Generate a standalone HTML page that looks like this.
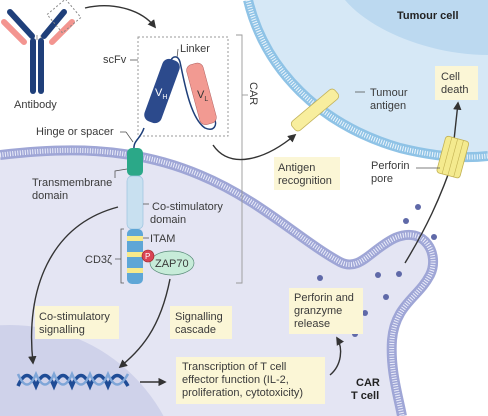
<!DOCTYPE html>
<html><head><meta charset="utf-8"><style>
html,body{margin:0;padding:0;background:#fff;width:488px;height:416px;overflow:hidden}
svg{display:block}
text{font-family:"Liberation Sans",sans-serif;font-size:11px;fill:#3a3a3a}
.b{font-weight:bold;fill:#222}
.box{fill:#fbf6d6}
.ln{stroke:#555;stroke-width:0.8;fill:none}
.arr{stroke:#333;stroke-width:1.4;fill:none;marker-end:url(#ah)}
</style></head><body>
<svg width="488" height="416" viewBox="0 0 488 416">
<defs>
<marker id="ah" viewBox="0 0 10 10" refX="8" refY="5" markerWidth="6" markerHeight="6" orient="auto"><path d="M0,0 L10,5 L0,10 z" fill="#333"/></marker>
</defs>
<!-- tumour cell -->
<g>
<path d="M248,0 C265,70 320,125 400,148 C440,158 470,158 488,156 L488,0 Z" fill="#d6e8f6"/>
<path d="M345,0 C370,30 430,55 488,55 L488,0 Z" fill="#bcd9f0"/>
<path d="M248,0 C265,70 320,125 400,148 C440,158 470,158 488,156" fill="none" stroke="#8fc3e6" stroke-width="10"/>
<path d="M248,0 C265,70 320,125 400,148 C440,158 470,158 488,156" fill="none" stroke="#eef6fc" stroke-width="5" stroke-dasharray="1 1.5"/>
<text x="397" y="19" class="b">Tumour cell</text>
</g>
<!-- T cell -->
<g>
<path d="M0,155 C60,148 130,145 200,175 C260,200 300,240 340,262 C360,272 370,250 395,238 C425,225 440,255 430,275 C418,298 395,305 392,340 C390,370 398,395 402,416 L0,416 Z" fill="#e4e5f3"/>
<circle cx="10" cy="500" r="175" fill="#cfd2ea"/>
<path d="M0,155 C60,148 130,145 200,175 C260,200 300,240 340,262 C360,272 370,250 395,238 C425,225 440,255 430,275 C418,298 395,305 392,340 C390,370 398,395 402,416" fill="none" stroke="#9fa6d6" stroke-width="10"/>
<path d="M0,155 C60,148 130,145 200,175 C260,200 300,240 340,262 C360,272 370,250 395,238 C425,225 440,255 430,275 C418,298 395,305 392,340 C390,370 398,395 402,416" fill="none" stroke="#eceefa" stroke-width="5" stroke-dasharray="1 1.5"/>
<text x="356" y="386" class="b">CAR</text>
<text x="351" y="399" class="b">T cell</text>
</g>
<!-- antibody -->
<g>
<line x1="37" y1="35" x2="37" y2="40" stroke="#bbb" stroke-width="1.5"/><line x1="41" y1="35" x2="41" y2="40" stroke="#bbb" stroke-width="1.5"/>
<rect x="30" y="38" width="6" height="56" rx="3" fill="#1f3f7a"/>
<rect x="38" y="38" width="6" height="56" rx="3" fill="#1f3f7a"/>
<line x1="10" y1="12" x2="32" y2="36" stroke="#1f3f7a" stroke-width="6" stroke-linecap="round"/>
<line x1="4" y1="22" x2="24" y2="42" stroke="#f39590" stroke-width="6" stroke-linecap="round"/>
<line x1="64" y1="12" x2="44" y2="36" stroke="#1f3f7a" stroke-width="6" stroke-linecap="round"/>
<line x1="72" y1="22" x2="52" y2="42" stroke="#f39590" stroke-width="6" stroke-linecap="round"/>
<rect x="52" y="4" width="24" height="24" transform="rotate(-40 64 16)" fill="none" stroke="#888" stroke-dasharray="2 2"/>
<text x="14" y="108">Antibody</text>
</g>
<path d="M85,8 C110,2 140,8 155,27" class="arr"/>
<!-- scFv box -->
<rect x="138" y="37" width="90" height="99" fill="none" stroke="#999" stroke-dasharray="2 2"/>
<text x="103" y="63">scFv</text>
<line x1="130" y1="60" x2="138" y2="60" class="ln"/>
<text x="180" y="52">Linker</text>
<line x1="178" y1="49" x2="177" y2="58" class="ln"/>
<path d="M154,118 L160,98 M170,63 C172,55 178,55 180,62 C184,80 190,118 205,128 C214,132 218,125 214,118" fill="none" stroke="#1f3f7a" stroke-width="1.5"/>
<rect x="153" y="58" width="18" height="66" rx="7" transform="rotate(20 162 91)" fill="#2c4a8c"/>
<text x="155" y="96" style="fill:#fff;font-size:11px">V<tspan style="font-size:7px;fill:#fff" dy="3">H</tspan></text>
<rect x="193" y="63" width="17" height="62" rx="6" transform="rotate(-15 201 94)" fill="#f29a92" stroke="#b06060" stroke-width="0.5"/>
<text x="197" y="98" style="fill:#333">V<tspan style="font-size:7px" dy="3">L</tspan></text>
<path d="M144,128 C140,140 133,140 134,150" fill="none" stroke="#1f3f7a" stroke-width="1.5"/>
<text x="36" y="135">Hinge or spacer</text>
<line x1="120" y1="132" x2="126" y2="132" class="ln"/><line x1="126" y1="132" x2="133" y2="142" class="ln"/>
<!-- CAR bracket -->
<path d="M236,35 L242,35 L242,283 L236,283" fill="none" stroke="#999" stroke-width="0.9"/>
<line x1="242" y1="95" x2="248" y2="95" stroke="#999" stroke-width="0.9"/>
<text x="0" y="0" transform="translate(250,82) rotate(90)">CAR</text>
<!-- CAR body -->
<rect x="127" y="148" width="16" height="28" rx="5" fill="#2ba888"/>
<rect x="127" y="176" width="16" height="53" rx="5" fill="#c8e0f0" stroke="#9cc4e0" stroke-width="0.7"/>
<rect x="127" y="229" width="16" height="55" rx="5" fill="#5ea6d6"/>
<rect x="127" y="236" width="16" height="5" fill="#f7ea8a"/>
<rect x="127" y="252" width="16" height="5" fill="#f7ea8a"/>
<rect x="127" y="268" width="16" height="5" fill="#f7ea8a"/>
<text x="32" y="186">Transmembrane</text>
<text x="32" y="199">domain</text>
<path d="M115,178 L115,171 L127,169" class="ln"/>
<text x="152" y="210">Co-stimulatory</text>
<text x="150" y="223">domain</text>
<line x1="143" y1="204" x2="149" y2="204" class="ln"/>
<text x="150" y="242">ITAM</text>
<line x1="143" y1="238" x2="149" y2="238" class="ln"/>
<text x="85" y="263">CD3ζ</text>
<path d="M124,229 L121,229 L121,283 L124,283 M115,259 L121,259" class="ln"/>
<ellipse cx="172" cy="263" rx="22" ry="12" fill="#c7ecd9" stroke="#5a8c7a" stroke-width="0.7"/>
<text x="155" y="267">ZAP70</text>
<circle cx="148" cy="256" r="6" fill="#d94455" stroke="#922" stroke-width="0.6"/>
<text x="145" y="259" style="fill:#fff;font-size:8px">P</text>
<!-- arrows -->
<path d="M118,207 C50,225 25,290 33,363" class="arr"/>
<path d="M170,279 C160,330 140,350 120,367" class="arr"/>
<path d="M213,145 C230,170 265,160 295,135" class="arr"/>
<path d="M140,382 L165,382" class="arr"/>
<path d="M330,375 C342,365 343,348 337,338" class="arr"/>
<path d="M405,263 C425,230 440,200 455,155" class="arr"/>
<line x1="454" y1="140" x2="458" y2="103" class="arr"/>
<!-- DNA -->
<g>
<path d="M18,386 C24,372 30,372 36,386 C42,372 48,372 54,386 C60,372 66,372 72,386 C78,372 84,372 90,386 C96,372 102,372 108,386 C114,372 120,372 128,386" fill="none" stroke="#1f4c96" stroke-width="3.5"/>
<path d="M18,374 C24,388 30,388 36,374 C42,388 48,388 54,374 C60,388 66,388 72,374 C78,388 84,388 90,374 C96,388 102,388 108,374 C114,388 120,388 128,374" fill="none" stroke="#7fa6d8" stroke-width="2.5"/>
</g>
<!-- antigen -->
<rect x="309" y="82" width="12" height="56" rx="4" transform="rotate(50 315 110)" fill="#f8ee9e" stroke="#c4b45c" stroke-width="0.8"/>
<line x1="355" y1="92" x2="365" y2="92" class="ln"/>
<text x="370" y="96">Tumour</text>
<text x="370" y="109">antigen</text>
<!-- perforin pore -->
<g transform="rotate(15 452 160)">
<rect x="440" y="138" width="24" height="38" rx="3" fill="#f4ea8e" stroke="#c2b152" stroke-width="0.8"/>
<line x1="446" y1="138" x2="446" y2="176" stroke="#c2b152" stroke-width="0.6"/>
<line x1="452" y1="138" x2="452" y2="176" stroke="#c2b152" stroke-width="0.6"/>
<line x1="458" y1="138" x2="458" y2="176" stroke="#c2b152" stroke-width="0.6"/>
</g>
<line x1="416" y1="168" x2="440" y2="168" class="ln"/>
<text x="371" y="169">Perforin</text>
<text x="371" y="182">pore</text>
<!-- granules -->
<g fill="#5f69a8">
<circle cx="418" cy="207" r="3"/><circle cx="406" cy="221" r="3"/><circle cx="434" cy="237" r="3"/>
<circle cx="320" cy="278" r="3"/><circle cx="378" cy="275" r="3"/><circle cx="399" cy="274" r="3"/>
<circle cx="386" cy="297" r="3"/><circle cx="365" cy="313" r="3"/><circle cx="355" cy="334" r="3"/>
</g>
<!-- label boxes -->
<rect x="35" y="306" width="84" height="33" class="box"/>
<text x="39" y="320">Co-stimulatory</text><text x="39" y="333">signalling</text>
<rect x="170" y="306" width="62" height="33" class="box"/>
<text x="175" y="320">Signalling</text><text x="175" y="333">cascade</text>
<rect x="176" y="357" width="149" height="47" class="box"/>
<text x="182" y="370">Transcription of T cell</text><text x="182" y="383">effector function (IL-2,</text><text x="182" y="396">proliferation, cytotoxicity)</text>
<rect x="289" y="288" width="74" height="46" class="box"/>
<text x="294" y="301">Perforin and</text><text x="294" y="314">granzyme</text><text x="294" y="327">release</text>
<rect x="274" y="157" width="66" height="33" class="box"/>
<text x="278" y="171">Antigen</text><text x="278" y="184">recognition</text>
<rect x="435" y="66" width="43" height="34" class="box"/>
<text x="441" y="80">Cell</text><text x="441" y="93">death</text>
</svg>
</body></html>
